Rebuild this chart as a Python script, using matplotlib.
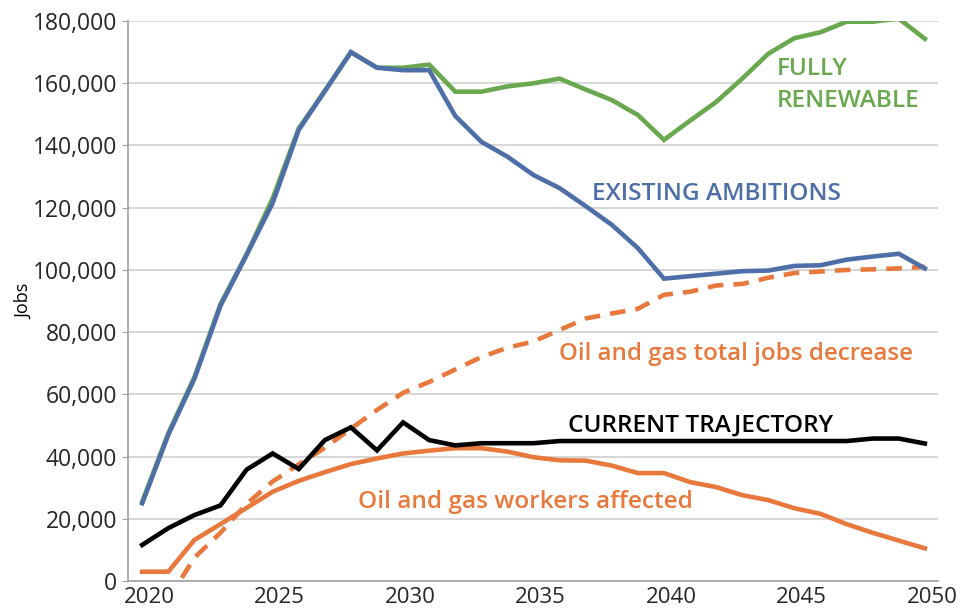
import matplotlib
matplotlib.use("Agg")
import matplotlib.pyplot as plt
from matplotlib.ticker import FuncFormatter, MultipleLocator
from matplotlib.transforms import ScaledTranslation
import numpy as np

# ----------------------------------------------------------------------------------------------------------------------
#  DATA
# ----------------------------------------------------------------------------------------------------------------------

years = list(range(2020, 2051))

fully_renewable = [25500, 47500, 65500, 89000, 105000, 123000, 145500, 157500, 170000, 165000,
                   165000, 166000, 157300, 157300, 159000, 160000, 161500, 158000, 154600, 149800,
                   141800, 148000, 154000, 161500, 169500, 174500, 176400, 179800, 179800, 180800,
                   174300]

existing_ambitions = [25000, 47000, 65000, 88500, 104800, 121500, 145000, 157500, 170000, 165000,
                      164200, 164200, 149500, 141200, 136400, 130500, 126300, 120500, 114500, 107000,
                      97200, 98000, 98800, 99600, 99800, 101300, 101500, 103300, 104300, 105200,
                      100500]

current_trajectory = [11600, 17000, 21200, 24300, 35800, 41000, 36000, 45300, 49400, 42000,
                      51000, 45300, 43600, 44300, 44300, 44300, 45000, 45000, 45000, 45000,
                      45000, 45000, 45000, 45000, 45000, 45000, 45000, 45000, 45800, 45800,
                      44200]

workers_affected = [3000, 3000, 13200, 18300, 23500, 28700, 32200, 35000, 37600, 39400,
                    41000, 41900, 42700, 42700, 41600, 39800, 38800, 38700, 37100, 34700,
                    34700, 31800, 30200, 27600, 26000, 23400, 21600, 18300, 15500, 13000,
                    10500]

total_jobs_decrease = [np.nan, -6000, 7500, 15500, 24800, 32000, 37500, 42800, 49000, 55000,
                       60500, 64000, 68000, 72000, 75000, 77000, 80700, 84400, 86000, 87500,
                       92000, 93000, 95000, 95500, 97500, 99000, 99500, 100000, 100200, 100500,
                       101000]

x_ticks = [2020, 2025, 2030, 2035, 2040, 2045, 2050]

# ----------------------------------------------------------------------------------------------------------------------
#  PLOT
# ----------------------------------------------------------------------------------------------------------------------

green  = '#6AA84F'
blue   = '#4E6EA8'
orange = '#E8783C'

plt.rcParams['font.family'] = ['Open Sans', 'DejaVu Sans']
plt.rcParams.update({'xtick.labelsize': 16, 'ytick.labelsize': 16.5})

fig = plt.figure(figsize=(9.78, 6.14), dpi=100)
ax  = fig.add_axes([0.131, 0.0537, 0.828, 0.912])

lw = 3.3
ax.plot(years, fully_renewable, color=green, linewidth=lw, solid_joinstyle='miter', zorder=3)
ax.plot(years, existing_ambitions, color=blue, linewidth=lw, solid_joinstyle='miter', zorder=4)
ax.plot(years, current_trajectory, color='black', linewidth=lw, solid_joinstyle='miter', zorder=4)
ax.plot(years, total_jobs_decrease, color=orange, linewidth=lw, linestyle=(0, (3.4, 2.2)), zorder=3)
ax.plot(years, workers_affected, color=orange, linewidth=lw, solid_joinstyle='miter', zorder=3)

# labels on the chart
fs = 17.6
ax.text(2044.32, 162700, 'FULLY', color=green, fontsize=fs, fontweight='semibold', va='baseline')
ax.text(2044.32, 152500, 'RENEWABLE', color=green, fontsize=fs, fontweight='semibold', va='baseline')
ax.text(2037.26, 122500, 'EXISTING AMBITIONS', color=blue, fontsize=fs, fontweight='semibold', va='baseline')
ax.text(2035.98, 71000, 'Oil and gas total jobs decrease', color=orange, fontsize=17.4,
        fontweight='semibold', va='baseline')
ax.text(2036.32, 48000, 'CURRENT TRAJECTORY', color='black', fontsize=fs, fontweight='semibold', va='baseline')
ax.text(2028.28, 23400, 'Oil and gas workers affected', color=orange, fontsize=fs,
        fontweight='semibold', va='baseline')

# axes
ax.set_xlim(2019.46, 2050.5)
ax.set_ylim(0, 180000)
ax.set_xticks(x_ticks)
ax.yaxis.set_major_locator(MultipleLocator(20000))
ax.yaxis.set_major_formatter(FuncFormatter(lambda v, p: '{:,.0f}'.format(v)))
ax.set_ylabel('Jobs', fontsize=13)
ax.yaxis.set_label_coords(-0.117, 0.5)

ax.grid(axis='y', color='#D0D0D0', linewidth=1.2, zorder=0)
ax.set_axisbelow(True)
for side in ['top', 'right']:
    ax.spines[side].set_visible(False)
ax.spines['left'].set_color('#A0A0A0')
ax.spines['bottom'].set_color('#A0A0A0')
ax.spines['left'].set_linewidth(1.2)
ax.spines['bottom'].set_linewidth(1.2)
ax.tick_params(axis='y', length=4, color='#A0A0A0', pad=4, labelcolor='#262626')
ax.tick_params(axis='x', length=0, pad=4, labelcolor='#262626')

# year labels sit a little right of their data points
shift = ScaledTranslation(7 / 100, 0, fig.dpi_scale_trans)
for label in ax.get_xticklabels():
    label.set_transform(label.get_transform() + shift)

fig.savefig('out.png', dpi=100)
